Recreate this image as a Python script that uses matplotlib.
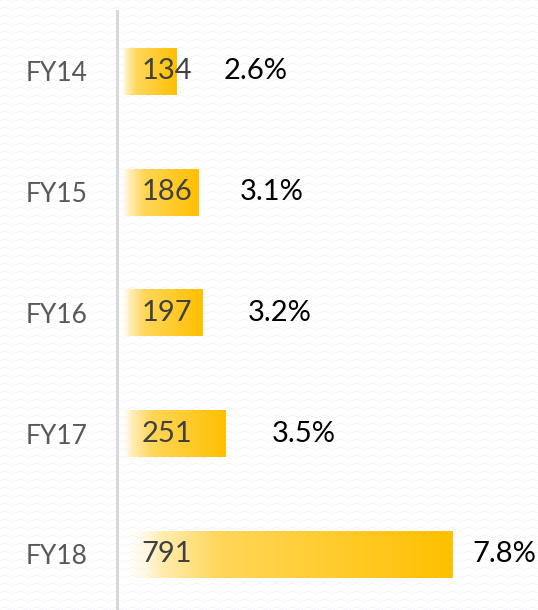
import numpy as np
import matplotlib
matplotlib.use("Agg")
import matplotlib.pyplot as plt
from matplotlib.colors import LinearSegmentedColormap

# ---- data ----
categories = ["FY14", "FY15", "FY16", "FY17", "FY18"]
values = [134, 186, 197, 251, 791]
pct_labels = ["2.6%", "3.1%", "3.2%", "3.5%", "7.8%"]

# ---- layout / style ----
W, H, DPI = 538, 610, 100
pct_offsets_pt = [34, 30, 32, 33, 14]   # gap after bar end (points)
font = "Lato"
gold = "#FFC000"

fig = plt.figure(figsize=(W / DPI, H / DPI), dpi=DPI)
fig.patch.set_facecolor("white")

# faint wavy background texture
tile_w, tile_h = 16, 8
bg = np.ones((H, W, 3))
ys, xs = np.mgrid[0:H, 0:W]
wave = np.round(1.2 * np.sin(2 * np.pi * xs / tile_w)).astype(int)
mask = ((ys + wave) % tile_h == 0)
bg[mask] = np.array([0.96, 0.96, 0.985])
fig.figimage(bg, 0, 0, zorder=-10)

ax = fig.add_axes([117 / W, 0, 1 - 117 / W, 599 / H])
ax.set_zorder(5)
ax.patch.set_alpha(0)

px_per_unit = 0.4205
x0 = -8
x1 = x0 + (W - 117) / px_per_unit

cmap = LinearSegmentedColormap.from_list(
    "g", [(0.0, (1, 1, 1, 0.0)), (0.12, (1, 0.93, 0.7, 1.0)),
          (0.3, (1, 0.84, 0.35, 1.0)), (1.0, matplotlib.colors.to_rgba(gold))])

bar_h = 0.39
ypos = np.arange(len(categories))
bars = ax.barh(ypos, values, height=bar_h, color="none", edgecolor="none")
grad = np.linspace(0, 1, 256).reshape(1, -1)
for b in bars:
    x, y = b.get_x(), b.get_y()
    w, h = b.get_width(), b.get_height()
    im = ax.imshow(grad, cmap=cmap, aspect="auto",
                   extent=(x, x + w, y + h, y), zorder=2, interpolation="bilinear")
    im.set_clip_path(b)

ax.set_xlim(x0, x1)
ax.set_ylim(len(categories) - 0.54, -0.5)

for i, (v, p) in enumerate(zip(values, pct_labels)):
    ax.annotate(str(v), xy=(0, i), xytext=(15, 0), textcoords="offset points",
                ha="left", va="center", fontsize=21, color="#404040",
                family=font, zorder=3)
    ax.annotate(p, xy=(v, i), xytext=(pct_offsets_pt[i], 0), textcoords="offset points",
                ha="left", va="center", fontsize=21, color="black",
                family=font, zorder=3)

ax.set_yticks(ypos)
ax.set_yticklabels(categories, fontsize=19, color="#595959", family=font)
ax.tick_params(axis="y", length=0, pad=21)
ax.set_xticks([])
for s in ["top", "right", "bottom"]:
    ax.spines[s].set_visible(False)
ax.spines["left"].set_color("#D9D9D9")
ax.spines["left"].set_linewidth(2.2)

fig.savefig("out.png", dpi=DPI)
